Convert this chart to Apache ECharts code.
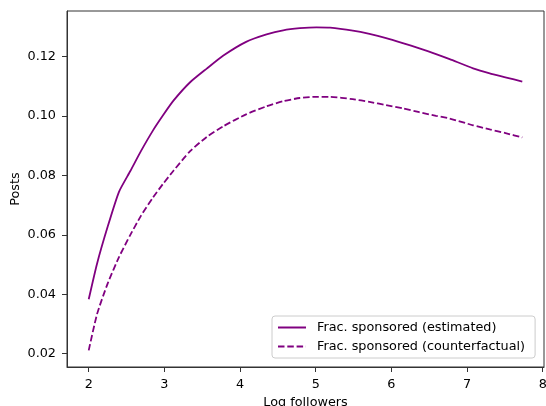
<!DOCTYPE html>
<html>
<head>
<meta charset="utf-8">
<script src="https://cdn.jsdelivr.net/npm/echarts@6/dist/echarts.min.js"></script>
<style>
  html, body { margin: 0; padding: 0; background: #fff; }
  #chart { width: 546px; height: 406px; }
</style>
</head>
<body>
<div id="chart"></div>
<script>
// values
const logFollowers = [2.00, 2.11, 2.25, 2.40, 2.55, 2.69, 2.85, 2.98, 3.12, 3.34, 3.56, 3.78, 4.08, 4.35, 4.57, 4.79, 5.01, 5.19, 5.49, 5.71, 5.93, 6.15, 6.37, 6.59, 6.77, 7.08, 7.30, 7.52, 7.73];
const fracEstimated = [0.0383, 0.0503, 0.0627, 0.0745, 0.0815, 0.0882, 0.0952, 0.1002, 0.1052, 0.1114, 0.1160, 0.1204, 0.1250, 0.1275, 0.1289, 0.1296, 0.1299, 0.1298, 0.1288, 0.1277, 0.1263, 0.1246, 0.1228, 0.1209, 0.1192, 0.1161, 0.1144, 0.1130, 0.1116];
const fracCounterfactual = [0.0211, 0.0333, 0.0436, 0.0525, 0.0600, 0.0664, 0.0726, 0.0771, 0.0816, 0.0882, 0.0930, 0.0966, 0.1006, 0.1033, 0.1050, 0.1061, 0.1065, 0.1065, 0.1057, 0.1048, 0.1037, 0.1026, 0.1013, 0.1001, 0.0992, 0.0969, 0.0955, 0.0942, 0.0928];
const xTicks = [2, 3, 4, 5, 6, 7, 8];
const yTicks = [0.02, 0.04, 0.06, 0.08, 0.10, 0.12];
const seriesNames = ["Frac. sponsored (estimated)", "Frac. sponsored (counterfactual)"];

const purple = "#800080";
const font = "DejaVu Sans";
const fs = 12.8;
const chart = echarts.init(document.getElementById("chart"));
const pairs = (ys) => logFollowers.map((x, i) => [x, ys[i]]);

chart.setOption({
  animation: false,
  textStyle: { fontFamily: font },
  grid: {
    left: 67, right: 2, top: 11, bottom: 39,
    outerBoundsMode: "none",
    containLabel: false,
    show: true, borderColor: "#333", borderWidth: 1,
  },
  // y axis title drawn by hand: the axis name gets pushed past the labels
  graphic: [{
    type: "text",
    x: 16, y: 189,
    rotation: Math.PI / 2,
    style: {
      text: "Posts", fill: "#000",
      font: `${fs}px "${font}"`,
      align: "center", verticalAlign: "middle",
    },
  }],
  xAxis: {
    type: "value",
    min: 1.713, max: 8.017,
    name: "Log followers",
    nameLocation: "middle",
    nameGap: 28,
    nameTextStyle: { fontSize: fs, color: "#000", fontFamily: font },
    axisLine: { lineStyle: { color: "#333", width: 1 } },
    axisTick: { show: true, length: 5, lineStyle: { color: "#333" }, customValues: xTicks },
    axisLabel: {
      fontSize: fs, color: "#000", fontFamily: font, margin: 11,
      customValues: xTicks,
      formatter: (v) => String(v),
    },
    splitLine: { show: false },
  },
  yAxis: {
    type: "value",
    min: 0.0155, max: 0.1354,
    axisLine: { show: true, lineStyle: { color: "#333", width: 1 } },
    axisTick: { show: true, length: 5, lineStyle: { color: "#333" }, customValues: yTicks },
    axisLabel: {
      fontSize: fs, color: "#000", fontFamily: font, margin: 11,
      customValues: yTicks,
      formatter: (v) => v.toFixed(2),
    },
    splitLine: { show: false },
  },
  legend: {
    orient: "vertical",
    left: 272, top: 316,
    padding: [5, 10, 5, 5],
    itemWidth: 28, itemHeight: 14, itemGap: 6,
    backgroundColor: "rgba(255,255,255,0.8)",
    borderColor: "#ccc", borderWidth: 1, borderRadius: 3,
    itemStyle: { opacity: 0 },
    textStyle: { fontSize: fs, color: "#000", fontFamily: font, padding: [0, 0, 0, 6] },
    data: seriesNames,
  },
  series: [
    {
      name: seriesNames[0],
      type: "line",
      symbol: "none",
      smooth: 0.2,
      data: pairs(fracEstimated),
      lineStyle: { color: purple, width: 1.8 },
      itemStyle: { color: purple },
    },
    {
      name: seriesNames[1],
      type: "line",
      symbol: "none",
      smooth: 0.2,
      data: pairs(fracCounterfactual),
      lineStyle: { color: purple, width: 1.8, type: [6.5, 2.8] },
      itemStyle: { color: purple },
    },
  ],
});
</script>
</body>
</html>
